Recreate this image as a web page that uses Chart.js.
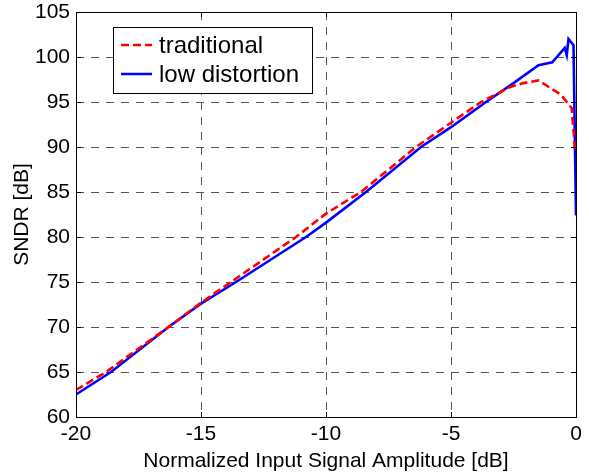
<!DOCTYPE html>
<html>
<head>
<meta charset="utf-8">
<script src="https://cdn.jsdelivr.net/npm/chart.js@4"></script>
<style>
  html, body { margin: 0; padding: 0; background: #fff; }
  #wrap { width: 589px; height: 474px; }
</style>
</head>
<body>
<div id="wrap"><canvas id="chart" width="589" height="474"></canvas></div>
<script>
// series (x in dB, y in dB)
const tradX = [-20, -18.8, -16.3, -15, -13.8, -11.2, -10, -8.6, -6.4, -5, -3.8, -2.6, -2.1, -1.5, -0.6, -0.17, -0.04, 0];
const tradY = [63.0, 65, 70, 72.7, 75, 80, 82.6, 85, 90, 92.7, 95, 96.7, 97.1, 97.4, 95.8, 94.3, 89.7, 89.5];
const lowX = [-20, -18.6, -16.3, -15, -13.6, -10.8, -10, -8.4, -6.2, -5, -3.6, -2.5, -1.5, -0.95, -0.45, -0.37, -0.3, -0.1, 0];
const lowY = [62.5, 65, 70, 72.6, 75, 80, 81.6, 85, 90, 92.2, 95, 97.1, 99.1, 99.4, 101.0, 100.2, 102.0, 101.3, 82.4];
const xTicks = [-20, -15, -10, -5, 0];
const yTicks = [60, 65, 70, 75, 80, 85, 90, 95, 100, 105];
const seriesNames = ['traditional', 'low distortion'];

const FONT = 'Liberation Sans, Arial, Helvetica, sans-serif';

function toPoints(xs, ys) {
    return xs.map((x, i) => ({ x: x, y: ys[i] }));
}

// box, inward tick marks and the legend, drawn the MATLAB way
const frame = {
    id: 'frame',
    afterDatasetsDraw(chart) {
        const ctx = chart.ctx;
        const a = chart.chartArea;
        const xs = chart.scales.x, ys = chart.scales.y;
        ctx.save();
        ctx.strokeStyle = '#000';
        ctx.lineWidth = 1;
        ctx.setLineDash([]);
        ctx.strokeRect(a.left + 0.5, a.top + 0.5, a.right - a.left, a.bottom - a.top);
        ctx.beginPath();
        xTicks.forEach(v => {
            const p = Math.round(xs.getPixelForValue(v)) + 0.5;
            ctx.moveTo(p, a.bottom); ctx.lineTo(p, a.bottom - 5);
            ctx.moveTo(p, a.top); ctx.lineTo(p, a.top + 5);
        });
        yTicks.forEach(v => {
            const p = Math.round(ys.getPixelForValue(v)) + 0.5;
            ctx.moveTo(a.left, p); ctx.lineTo(a.left + 5, p);
            ctx.moveTo(a.right, p); ctx.lineTo(a.right - 5, p);
        });
        ctx.stroke();

        // legend
        const lx = a.left + 37, ly = a.top + 15, lw = 199, lh = 66;
        ctx.fillStyle = '#fff';
        ctx.fillRect(lx, ly, lw, lh);
        ctx.strokeRect(lx + 0.5, ly + 0.5, lw, lh);
        ctx.font = '24px ' + FONT;
        ctx.textBaseline = 'middle';
        chart.data.datasets.forEach((ds, i) => {
            const yy = ly + 18 + i * 29;
            ctx.strokeStyle = ds.borderColor;
            ctx.lineWidth = 2.5;
            ctx.setLineDash(ds.borderDash || []);
            ctx.beginPath();
            ctx.moveTo(lx + 8, yy); ctx.lineTo(lx + 39, yy);
            ctx.stroke();
            ctx.fillStyle = '#000';
            ctx.fillText(seriesNames[i], lx + 46, yy + 1);
        });
        ctx.restore();
    }
};

new Chart(document.getElementById('chart'), {
    type: 'line',
    data: {
        datasets: [
            {
                label: seriesNames[0],
                data: toPoints(tradX, tradY),
                borderColor: '#ff0000',
                borderWidth: 2.6,
                borderDash: [8, 4],
                pointRadius: 0,
                fill: false,
                tension: 0
            },
            {
                label: seriesNames[1],
                data: toPoints(lowX, lowY),
                borderColor: '#0000ff',
                borderWidth: 2.6,
                pointRadius: 0,
                fill: false,
                tension: 0
            }
        ]
    },
    options: {
        responsive: false,
        animation: false,
        events: [],
        layout: { padding: { top: 12, right: 13, left: 0, bottom: 0 } },
        plugins: { legend: { display: false }, tooltip: { enabled: false } },
        scales: {
            x: {
                type: 'linear',
                min: -20,
                max: 0,
                afterBuildTicks: s => { s.ticks = xTicks.map(v => ({ value: v })); },
                afterFit: s => { s.height = 57; s.paddingLeft = 0; s.paddingRight = 0; },
                border: { display: false, dash: [8, 7] },
                grid: {
                    drawTicks: false,
                    color: c => (c.tick.value === -20 || c.tick.value === 0) ? 'rgba(0,0,0,0)' : '#555',
                    lineWidth: 1
                },
                ticks: {
                    color: '#000',
                    padding: 5,
                    maxRotation: 0,
                    autoSkip: false,
                    font: { family: FONT, size: 21 }
                },
                title: {
                    display: true,
                    text: 'Normalized Input Signal Amplitude [dB]',
                    color: '#000',
                    padding: { top: 0, bottom: 0 },
                    font: { family: FONT, size: 21 }
                }
            },
            y: {
                type: 'linear',
                min: 60,
                max: 105,
                afterBuildTicks: s => { s.ticks = yTicks.map(v => ({ value: v })); },
                afterFit: s => { s.width = 76; s.paddingTop = 0; s.paddingBottom = 0; },
                border: { display: false, dash: [8, 7] },
                grid: {
                    drawTicks: false,
                    color: c => (c.tick.value === 60 || c.tick.value === 105) ? 'rgba(0,0,0,0)' : '#555',
                    lineWidth: 1
                },
                ticks: {
                    color: '#000',
                    padding: 6,
                    autoSkip: false,
                    font: { family: FONT, size: 21 }
                },
                title: {
                    display: true,
                    text: 'SNDR [dB]',
                    color: '#000',
                    padding: { top: 10, bottom: 0 },
                    font: { family: FONT, size: 21 }
                }
            }
        }
    },
    plugins: [frame]
});
</script>
</body>
</html>
